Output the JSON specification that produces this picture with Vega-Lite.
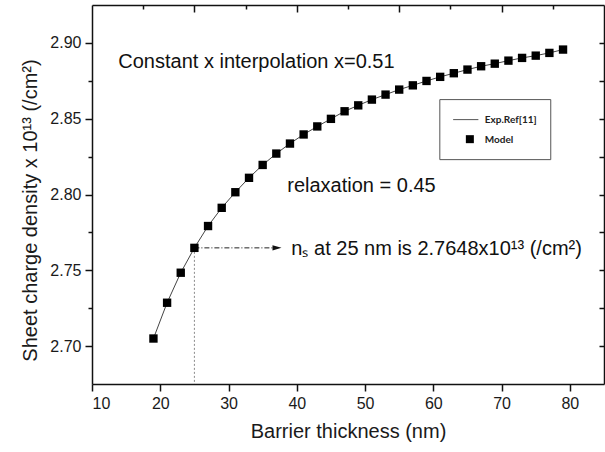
{
  "$schema": "https://vega.github.io/schema/vega-lite/v6.json",
  "width": 512,
  "height": 379,
  "autosize": {"type": "none"},
  "padding": {"left": 92, "top": 5, "right": 1, "bottom": 68},
  "background": "white",
  "config": {
    "view": {"stroke": null},
    "font": "Liberation Sans",
    "axis": {
      "grid": false,
      "domainColor": "#111111",
      "domainWidth": 1.5,
      "tickColor": "#111111",
      "tickWidth": 1.5,
      "labelFont": "Liberation Sans",
      "labelFontSize": 16,
      "labelColor": "#1a1a1a",
      "titleFont": "Liberation Sans",
      "titleFontSize": 20,
      "titleFontWeight": "normal",
      "titleColor": "#1a1a1a"
    }
  },
  "datasets": {
    "model": [
      {"thickness": 19, "ns": 2.705},
      {"thickness": 21, "ns": 2.7286},
      {"thickness": 23, "ns": 2.7484},
      {"thickness": 25, "ns": 2.7648},
      {"thickness": 27, "ns": 2.7792},
      {"thickness": 29, "ns": 2.7912},
      {"thickness": 31, "ns": 2.8015},
      {"thickness": 33, "ns": 2.811},
      {"thickness": 35, "ns": 2.8195},
      {"thickness": 37, "ns": 2.827},
      {"thickness": 39, "ns": 2.8336},
      {"thickness": 41, "ns": 2.8396},
      {"thickness": 43, "ns": 2.8449},
      {"thickness": 45, "ns": 2.8499},
      {"thickness": 47, "ns": 2.8549},
      {"thickness": 49, "ns": 2.8588},
      {"thickness": 51, "ns": 2.8626},
      {"thickness": 53, "ns": 2.8659},
      {"thickness": 55, "ns": 2.8692},
      {"thickness": 57, "ns": 2.872},
      {"thickness": 59, "ns": 2.8749},
      {"thickness": 61, "ns": 2.8776},
      {"thickness": 63, "ns": 2.88},
      {"thickness": 65, "ns": 2.8824},
      {"thickness": 67, "ns": 2.8846},
      {"thickness": 69, "ns": 2.8863},
      {"thickness": 71, "ns": 2.8883},
      {"thickness": 73, "ns": 2.8901},
      {"thickness": 75, "ns": 2.8916},
      {"thickness": 77, "ns": 2.8934},
      {"thickness": 79, "ns": 2.8956}
    ],
    "notes": [
      {"x": 13.85, "y": 2.8835, "text": "Constant x interpolation x=0.51"},
      {"x": 38.6, "y": 2.8015, "text": "relaxation = 0.45"},
      {"x": 39.2, "y": 2.7600, "text": "nₛ at 25 nm is 2.7648x10¹³ (/cm²)"}
    ],
    "legendText": [
      {"x": 67.54, "y": 2.8494, "text": "Exp.Ref[11]"},
      {"x": 67.54, "y": 2.8362, "text": "Model"}
    ]
  },
  "layer": [
    {
      "layer": [
        {
          "data": {"values": [{"x": 25, "y": 2.7648, "y2": 2.675}]},
          "mark": {"type": "rule", "color": "#8a8a8a", "strokeWidth": 1, "strokeDash": [2, 2]},
          "encoding": {
            "x": {"field": "x", "type": "quantitative", "scale": {"domain": [10, 85], "nice": false, "zero": false}},
            "y": {"field": "y", "type": "quantitative", "scale": {"domain": [2.675, 2.925], "nice": false, "zero": false}},
            "y2": {"field": "y2"}
          }
        },
        {
          "data": {"values": [{"x": 25, "x2": 36.6, "y": 2.7648}]},
          "mark": {"type": "rule", "color": "#222222", "strokeWidth": 1, "strokeDash": [5, 2, 1, 2]},
          "encoding": {
            "x": {"field": "x", "type": "quantitative", "scale": {"domain": [10, 85], "nice": false, "zero": false}},
            "x2": {"field": "x2"},
            "y": {"field": "y", "type": "quantitative", "scale": {"domain": [2.675, 2.925], "nice": false, "zero": false}}
          }
        },
        {
          "data": {"values": [{"x": 37.1, "y": 2.7648}]},
          "mark": {"type": "point", "shape": "M-1,-0.6L1,0L-1,0.6Z", "filled": true, "color": "#111111", "size": 81, "opacity": 1},
          "encoding": {
            "x": {"field": "x", "type": "quantitative", "scale": {"domain": [10, 85], "nice": false, "zero": false}},
            "y": {"field": "y", "type": "quantitative", "scale": {"domain": [2.675, 2.925], "nice": false, "zero": false}}
          }
        },
        {
          "data": {"name": "model"},
          "mark": {"type": "line", "color": "#444444", "strokeWidth": 1},
          "encoding": {
            "x": {
              "field": "thickness", "type": "quantitative",
              "scale": {"domain": [10, 85], "nice": false, "zero": false},
              "axis": {
                "orient": "bottom",
                "title": "Barrier thickness (nm)",
                "values": [10, 15, 20, 25, 30, 35, 40, 45, 50, 55, 60, 65, 70, 75, 80],
                "labelExpr": "datum.value % 10 == 0 ? datum.label : ''",
                "tickSize": {"condition": {"test": "datum.value % 10 == 0", "value": 7}, "value": 4},
                "labelPadding": 4,
                "titlePadding": 10
              }
            },
            "y": {
              "field": "ns", "type": "quantitative",
              "scale": {"domain": [2.675, 2.925], "nice": false, "zero": false},
              "axis": {
                "orient": "left",
                "title": "Sheet charge density x 10¹³ (/cm²)",
                "values": [2.7, 2.725, 2.75, 2.775, 2.8, 2.825, 2.85, 2.875, 2.9],
                "labelExpr": "round(datum.value * 1000) % 50 == 0 ? format(datum.value, '.2f') : ''",
                "tickSize": {"condition": {"test": "round(datum.value * 1000) % 50 == 0", "value": 7}, "value": 4},
                "labelPadding": 4,
                "titlePadding": 9,
                "titleY": 205
              }
            }
          }
        },
        {
          "data": {"name": "model"},
          "mark": {"type": "point", "shape": "square", "filled": true, "color": "#000000", "size": 70, "opacity": 1},
          "encoding": {
            "x": {"field": "thickness", "type": "quantitative", "scale": {"domain": [10, 85], "nice": false, "zero": false}},
            "y": {"field": "ns", "type": "quantitative", "scale": {"domain": [2.675, 2.925], "nice": false, "zero": false}}
          }
        },
        {
          "data": {"name": "notes"},
          "mark": {"type": "text", "align": "left", "baseline": "alphabetic", "font": "Liberation Sans", "fontSize": 20, "color": "#111111"},
          "encoding": {
            "x": {"field": "x", "type": "quantitative", "scale": {"domain": [10, 85], "nice": false, "zero": false}},
            "y": {"field": "y", "type": "quantitative", "scale": {"domain": [2.675, 2.925], "nice": false, "zero": false}},
            "text": {"field": "text"}
          }
        },
        {
          "data": {"values": [{"x": 60.95, "x2": 77.2, "y": 2.8626, "y2": 2.823}]},
          "mark": {"type": "rect", "fill": "white", "stroke": "#555555", "strokeWidth": 1},
          "encoding": {
            "x": {"field": "x", "type": "quantitative", "scale": {"domain": [10, 85], "nice": false, "zero": false}},
            "x2": {"field": "x2"},
            "y": {"field": "y", "type": "quantitative", "scale": {"domain": [2.675, 2.925], "nice": false, "zero": false}},
            "y2": {"field": "y2"}
          }
        },
        {
          "data": {"values": [{"x": 62.9, "x2": 66.6, "y": 2.8494}]},
          "mark": {"type": "rule", "color": "#555555", "strokeWidth": 1},
          "encoding": {
            "x": {"field": "x", "type": "quantitative", "scale": {"domain": [10, 85], "nice": false, "zero": false}},
            "x2": {"field": "x2"},
            "y": {"field": "y", "type": "quantitative", "scale": {"domain": [2.675, 2.925], "nice": false, "zero": false}}
          }
        },
        {
          "data": {"values": [{"x": 65.35, "y": 2.8365}]},
          "mark": {"type": "point", "shape": "square", "filled": true, "color": "#000000", "size": 64, "opacity": 1},
          "encoding": {
            "x": {"field": "x", "type": "quantitative", "scale": {"domain": [10, 85], "nice": false, "zero": false}},
            "y": {"field": "y", "type": "quantitative", "scale": {"domain": [2.675, 2.925], "nice": false, "zero": false}}
          }
        },
        {
          "data": {"name": "legendText"},
          "mark": {"type": "text", "align": "left", "baseline": "middle", "font": "Lato", "fontWeight": "bold", "fontSize": 10, "color": "#222222"},
          "encoding": {
            "x": {"field": "x", "type": "quantitative", "scale": {"domain": [10, 85], "nice": false, "zero": false}},
            "y": {"field": "y", "type": "quantitative", "scale": {"domain": [2.675, 2.925], "nice": false, "zero": false}},
            "text": {"field": "text"}
          }
        }
      ]
    },
    {
      "data": {"values": [{"x": 10, "y": 2.7}]},
      "mark": {"type": "point", "opacity": 0},
      "encoding": {
        "x": {
          "field": "x", "type": "quantitative",
          "scale": {"domain": [10, 85], "nice": false, "zero": false},
          "axis": {
            "orient": "top",
            "title": null,
            "labels": false,
            "values": [17.5, 25, 32.5, 40, 47.5, 55, 62.5, 70, 77.5],
            "tickSize": {"condition": {"test": "datum.value % 15 == 10", "value": -7}, "value": -4}
          }
        },
        "y": {
          "field": "y", "type": "quantitative",
          "scale": {"domain": [2.675, 2.925], "nice": false, "zero": false},
          "axis": {
            "orient": "right",
            "title": null,
            "labels": false,
            "values": [2.7, 2.725, 2.75, 2.775, 2.8, 2.825, 2.85, 2.875, 2.9],
            "tickSize": -5
          }
        }
      }
    }
  ],
  "resolve": {"scale": {"x": "independent", "y": "independent"}}
}
